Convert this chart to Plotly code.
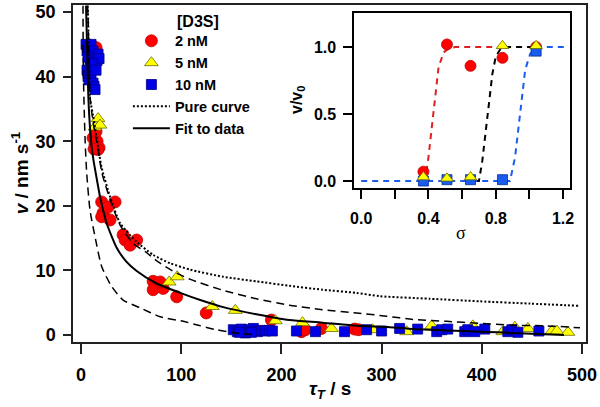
import plotly.graph_objects as go

# ---------------- main panel data ----------------
red_tau = [15, 12, 14, 16, 18, 15, 17, 13, 20.6, 34, 22, 20.6, 29, 27, 42, 44, 49, 55.5,
           72, 72, 82, 79, 95.5, 125, 190, 220, 224, 240, 273, 277]
red_v = [44.5, 30.5, 29.5, 30, 29, 31.5, 28.7, 28.8, 20.6, 20.6, 18.9, 18.3, 17.8, 19.8, 15.5, 14.7, 13.9, 14.7,
         8.3, 7.0, 7.2, 8.2, 5.9, 3.4, 2.3, 0.5, 0.8, 1.0, 0.9, 0.8]

yel_tau = [14, 17, 19, 88, 96, 131, 154, 194, 221, 250, 291, 325, 350, 391, 421, 433, 446, 470, 475, 486]
yel_v = [32.2, 33.5, 32.5, 8.2, 9.0, 4.4, 3.8, 2.2, 1.9, 1.0, 0.8, 0.5, 1.4, 1.4, 0.5, 1.2, 1.0, 0.6, 0.6, 0.4]

blu_tau = [5, 6, 7, 8, 10, 12, 14, 16, 17, 18, 6, 7, 8, 10, 12, 13, 14, 9, 11, 15,
           152, 156, 160, 164, 168, 172, 176, 180, 184, 188, 191, 158, 170,
           215, 234, 263, 285, 300, 318, 336, 355, 360, 366, 383, 386, 393, 403, 426, 430, 436, 457]
blu_v = [45, 44, 43, 44.5, 45, 44, 43, 42.5, 43.5, 42.8, 41, 40, 39.5, 40.5, 39, 38.5, 38, 41.5, 42, 41,
         0.8, 0.5, 0.9, 0.3, 0.8, 1.0, 0.5, 0.7, 0.6, 0.7, 0.6, 0.4, 0.4,
         0.6, 0.5, 0.5, 0.8, 0.6, 1.0, 0.9, 0.5, 0.8, 0.9, 0.5, 0.8, 0.5, 0.9, 0.5, 0.8, 0.4, 0.6]

pure_tau = [6.5, 7, 9, 12, 15.6, 20.6, 29, 39, 55.6, 72, 89, 109, 142, 175, 208, 241, 275, 298, 348, 398, 448, 498]
pure_v = [51, 49.5, 36.7, 34, 30.5, 25.9, 21.4, 17.3, 14.4, 12.4, 11.1, 10.1, 9.0, 8.3, 7.6, 7.0, 6.5, 6.0, 5.6, 5.2, 4.85, 4.5]

fit_tau = [5, 6, 7.3, 9, 10.7, 12.5, 15, 19, 25.6, 35.6, 45, 55.6, 75, 99, 119, 142, 175, 208, 241, 275, 308, 331, 365, 398, 431, 482]
fit_v = [51, 45, 37, 32, 29, 27, 24.8, 21.4, 17.3, 13.5, 11.4, 9.9, 8.0, 6.5, 5.4, 4.3, 3.2, 2.3, 1.9, 1.4, 1.2, 0.9, 0.7, 0.5, 0.3, 0.0]

upper_tau = [6.5, 7, 9, 12, 15.6, 21, 29, 39, 52, 65, 77, 95, 109, 142, 175, 208, 241, 275, 305, 331, 365, 398, 431, 465, 498]
upper_v = [51, 49.5, 37, 33, 30, 25, 21, 17, 14.2, 12.8, 11.3, 9.6, 8.6, 6.9, 5.6, 4.6, 3.9, 3.4, 2.9, 2.4, 2.1, 1.8, 1.5, 1.4, 1.1]

lower_tau = [2, 2.3, 4, 5.7, 9, 14, 20.6, 30.6, 42, 59, 79, 102, 117, 135, 155, 175]
lower_v = [51, 41, 30.5, 25, 19.3, 15.2, 10.6, 7.5, 5.4, 4.2, 2.8, 2.1, 1.5, 0.8, 0.3, 0.0]

# ---------------- inset data ----------------
sig_pts = [0.37, 0.51, 0.65, 0.84, 1.04]
ins_red = [0.07, 1.02, 0.86, 0.92, 1.00]
ins_yel = [0.03, 0.02, 0.03, 1.01, 1.01]
ins_blu = [0.00, 0.01, 0.01, 0.01, 0.97]

red_sig = [0.37, 0.38, 0.40, 0.42, 0.44, 0.46, 0.49, 0.52, 0.56, 0.84]
red_fit = [0.0, 0.0, 0.18, 0.41, 0.65, 0.85, 0.96, 0.99, 1.0, 1.0]
blk_sig = [0.68, 0.70, 0.72, 0.74, 0.76, 0.78, 0.80, 0.83, 0.87, 1.02]
blk_fit = [0.0, 0.0, 0.15, 0.36, 0.60, 0.80, 0.93, 0.99, 1.0, 1.0]
blu_sig = [0.0, 0.885, 0.915, 0.935, 0.955, 0.975, 1.005, 1.035, 1.07, 1.22]
blu_fit = [0.0, 0.0, 0.18, 0.41, 0.63, 0.83, 0.95, 0.99, 1.0, 1.0]

x_ticks = [0, 100, 200, 300, 400, 500]
y_ticks = [0, 10, 20, 30, 40, 50]
ix_ticks = [0.0, 0.4, 0.8, 1.2]
ix_labels = ["0.0", "0.4", "0.8", "1.2"]
iy_ticks = [0.0, 0.5, 1.0]
iy_labels = ["0.0", "0.5", "1.0"]

FONT = "Liberation Sans"
RED = "#ff0000"
YEL = "#ffff00"
BLU = "#0000e6"
IBLU = "#1a5cf0"

fig = go.Figure()

# markers (main)
fig.add_trace(go.Scatter(x=red_tau, y=red_v, mode="markers", name="2 nM",
                         marker=dict(symbol="circle", size=12, color=RED, line=dict(color="#c00000", width=0.8))))
fig.add_trace(go.Scatter(x=yel_tau, y=yel_v, mode="markers", name="5 nM",
                         marker=dict(symbol="triangle-up", size=12, color=YEL, line=dict(color="#6b6b00", width=0.8))))
fig.add_trace(go.Scatter(x=blu_tau, y=blu_v, mode="markers", name="10 nM",
                         marker=dict(symbol="square", size=10, color=BLU, line=dict(color="#00008b", width=0.8))))
# curves (main)
fig.add_trace(go.Scatter(x=pure_tau, y=pure_v, mode="lines", name="Pure curve",
                         line=dict(color="black", width=2, dash="2px,2px", shape="spline", smoothing=0.6)))
fig.add_trace(go.Scatter(x=fit_tau, y=fit_v, mode="lines", name="Fit to data",
                         line=dict(color="black", width=2, shape="spline", smoothing=0.6)))
fig.add_trace(go.Scatter(x=upper_tau, y=upper_v, mode="lines", showlegend=False,
                         line=dict(color="black", width=1.5, dash="8px,5px", shape="spline", smoothing=0.6)))
fig.add_trace(go.Scatter(x=lower_tau, y=lower_v, mode="lines", showlegend=False,
                         line=dict(color="black", width=1.5, dash="8px,5px", shape="spline", smoothing=0.6)))

# inset curves
fig.add_trace(go.Scatter(x=red_sig, y=red_fit, mode="lines", showlegend=False, xaxis="x2", yaxis="y2",
                         line=dict(color="#e02020", width=2, dash="6px,5px")))
fig.add_trace(go.Scatter(x=blk_sig, y=blk_fit, mode="lines", showlegend=False, xaxis="x2", yaxis="y2",
                         line=dict(color="black", width=2, dash="6px,5px")))
fig.add_trace(go.Scatter(x=blu_sig, y=blu_fit, mode="lines", showlegend=False, xaxis="x2", yaxis="y2",
                         line=dict(color=IBLU, width=2, dash="6px,5px")))
# inset markers
fig.add_trace(go.Scatter(x=sig_pts, y=ins_red, mode="markers", showlegend=False, xaxis="x2", yaxis="y2",
                         marker=dict(symbol="circle", size=11, color=RED, line=dict(color="#c00000", width=0.8))))
fig.add_trace(go.Scatter(x=sig_pts, y=ins_blu, mode="markers", showlegend=False, xaxis="x2", yaxis="y2",
                         marker=dict(symbol="square", size=10, color=IBLU, line=dict(color="#00308b", width=0.8))))
fig.add_trace(go.Scatter(x=sig_pts, y=ins_yel, mode="markers", showlegend=False, xaxis="x2", yaxis="y2",
                         marker=dict(symbol="triangle-up", size=11, color=YEL, line=dict(color="#6b6b00", width=0.8))))

tickfont = dict(family=FONT, size=18, color="black", weight="bold")
itickfont = dict(family=FONT, size=16, color="black", weight="bold")
bold18 = dict(family=FONT, size=19, color="black", weight="bold")

fig.update_layout(
    width=600, height=407,
    margin=dict(l=73, r=14, t=5, b=65),
    paper_bgcolor="white", plot_bgcolor="white",
    xaxis=dict(range=[-8, 504], domain=[0, 1], showline=True, mirror=True, linecolor="#222", linewidth=1.5,
               ticks="outside", ticklen=10, tickwidth=1.5, tickcolor="#222", tickvals=x_ticks,
               tickfont=tickfont, showgrid=False, zeroline=False, ticklabelstandoff=6, automargin=False),
    yaxis=dict(range=[-1.1, 51.1], domain=[0, 1], showline=True, mirror=True, linecolor="#222", linewidth=1.5,
               ticks="outside", ticklen=8, tickwidth=1.5, tickcolor="#222", tickvals=y_ticks,
               tickfont=tickfont, showgrid=False, zeroline=False, ticklabelstandoff=4, automargin=False),
    xaxis2=dict(range=[-0.042, 1.242], domain=[0.548, 0.969], anchor="y2", showline=True, mirror=True,
                linecolor="black", linewidth=1.5, ticks="outside", ticklen=9, tickwidth=1.5, tickcolor="black",
                tickvals=ix_ticks, ticktext=ix_labels, tickfont=itickfont, showgrid=False, zeroline=False,
                ticklabelstandoff=6, automargin=False,
                minor=dict(tickvals=[0.2, 0.6, 1.0], ticks="outside", ticklen=9, tickwidth=1.5, tickcolor="black")),
    yaxis2=dict(range=[-0.052, 1.254], domain=[0.457, 0.976], anchor="x2", showline=True, mirror=True,
                linecolor="black", linewidth=1.5, ticks="outside", ticklen=9, tickwidth=1.5, tickcolor="black",
                tickvals=iy_ticks, ticktext=iy_labels, tickfont=itickfont, showgrid=False, zeroline=False,
                ticklabelstandoff=4, automargin=False),
    legend=dict(x=0.107, y=0.941, xanchor="left", yanchor="top", bgcolor="rgba(0,0,0,0)",
                font=dict(family=FONT, size=14.5, color="black", weight="bold"), itemsizing="trace",
                itemwidth=37, tracegroupgap=0),
    annotations=[
        dict(text="[D3S]", x=0.199, y=0.95, xref="paper", yref="paper", xanchor="left", yanchor="middle",
             showarrow=False, font=dict(family=FONT, size=16, color="black", weight="bold")),
        dict(text="<i>v</i> / nm s<sup>-1</sup>", x=-0.103, y=0.501, xref="paper", yref="paper",
             xanchor="center", yanchor="middle", textangle=-90, showarrow=False, font=bold18),
        dict(text="<i>τ<sub>T</sub></i> / s", x=0.501, y=-0.142, xref="paper", yref="paper",
             xanchor="center", yanchor="middle", showarrow=False, font=bold18),
        dict(text="v/v<sub>0</sub>", x=0.4366, y=0.718, xref="paper", yref="paper",
             xanchor="center", yanchor="middle", textangle=-90, showarrow=False,
             font=dict(family=FONT, size=16, color="black", weight="bold")),
        dict(text="σ", x=0.756, y=0.323, xref="paper", yref="paper",
             xanchor="center", yanchor="middle", showarrow=False,
             font=dict(family="Liberation Serif", size=18, color="black")),
    ],
)

fig.write_html("out.html", config={"displayModeBar": False},
               post_script="document.body.style.margin='0';document.body.style.padding='0';")
